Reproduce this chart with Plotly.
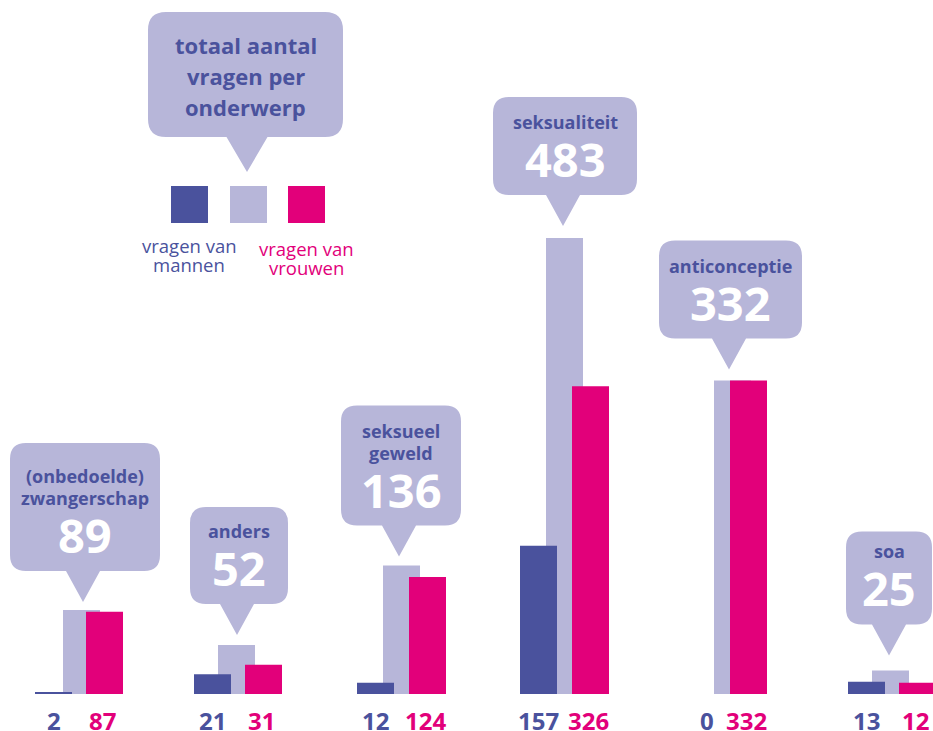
import plotly.graph_objects as go

# ---------------- data ----------------
topics = ["(onbedoelde)\nzwangerschap", "anders", "seksueel\ngeweld",
          "seksualiteit", "anticonceptie", "soa"]
totals = [89, 52, 136, 483, 332, 25]
men = [2, 21, 12, 157, 0, 13]
women = [87, 31, 124, 326, 332, 12]

legend_title = ["totaal aantal", "vragen per", "onderwerp"]
legend_men = ["vragen van", "mannen"]
legend_women = ["vragen van", "vrouwen"]

# ---------------- style ----------------
C_MEN = "#4a529d"
C_TOT = "#b7b6d9"
C_WOM = "#e2007a"
C_TXT = "#4a529d"
FONT = "Open Sans, Lato, DejaVu Sans, sans-serif"

W, H = 933, 731
PX_PER_CAT = 161.8          # pixel distance between groups
FIRST_CENTER = 81.5         # pixel x of first group centre
BASE_PX = 694               # pixel y of baseline
PX_PER_UNIT = 456 / 483     # vertical pixels per question
BAR_W_PX = 37

# small per-group layout nudges (pixels) to follow the hand-made original
group_nudge = [0, -6.8, -3.6, -2.4, 3.8, 0]
men_shift = [-28, -24, -26, -26, -26, -24]
women_shift = [23, 27, 26, 26, 16, 27]
tip_dx = [1.5, 0.5, -2.5, -1.5, -3.5, -1.5]
bubble_style = [
    dict(w=150, h=128, gap=8, dx=2),
    dict(w=98, h=97, gap=10, dx=2),
    dict(w=120, h=120, gap=9, dx=2),
    dict(w=144, h=98, gap=12, dx=2),
    dict(w=143, h=98, gap=11, dx=1.5),
    dict(w=86, h=93, gap=15, dx=0),
]
TRI_H, TRI_W, RAD = 31, 34, 16

x_lo = -FIRST_CENTER / PX_PER_CAT
x_hi = (W - FIRST_CENTER) / PX_PER_CAT
y_lo = -(H - BASE_PX) / PX_PER_UNIT
y_hi = BASE_PX / PX_PER_UNIT

bw = BAR_W_PX / PX_PER_CAT
cats = list(range(len(topics)))


def offs(shifts):
    return [(group_nudge[i] + shifts[i] - BAR_W_PX / 2) / PX_PER_CAT for i in cats]


fig = go.Figure()
fig.add_trace(go.Bar(x=cats, y=totals, width=bw, offset=offs([0] * len(cats)),
                     marker=dict(color=C_TOT, line=dict(width=0)),
                     name="totaal", hoverinfo="skip"))
fig.add_trace(go.Bar(x=cats, y=men, width=bw, offset=offs(men_shift),
                     marker=dict(color=C_MEN, line=dict(width=0)),
                     name="mannen", hoverinfo="skip"))
fig.add_trace(go.Bar(x=cats, y=women, width=bw, offset=offs(women_shift),
                     marker=dict(color=C_WOM, line=dict(width=0)),
                     name="vrouwen", hoverinfo="skip"))


def bubble_path(w, h, tri_h, tri_w, gap, r, dx=0.0):
    yb = gap + tri_h
    yt = yb + h
    xl, xr = dx - w / 2, dx + w / 2
    p = [
        f"M 0,{gap}",
        f"L {tri_w / 2},{yb}",
        f"L {xr - r},{yb}",
        f"Q {xr},{yb} {xr},{yb + r}",
        f"L {xr},{yt - r}",
        f"Q {xr},{yt} {xr - r},{yt}",
        f"L {xl + r},{yt}",
        f"Q {xl},{yt} {xl},{yt - r}",
        f"L {xl},{yb + r}",
        f"Q {xl},{yb} {xl + r},{yb}",
        f"L {-tri_w / 2},{yb}",
        "Z",
    ]
    return " ".join(p)


shapes = []
annotations = []
for i, (lab, tot) in enumerate(zip(topics, totals)):
    st = bubble_style[i]
    tip_x = cats[i] + (group_nudge[i] + tip_dx[i]) / PX_PER_CAT
    shapes.append(dict(
        type="path", xref="x", yref="y",
        xsizemode="pixel", ysizemode="pixel",
        xanchor=tip_x, yanchor=tot,
        path=bubble_path(st["w"], st["h"], TRI_H, TRI_W, st["gap"], RAD, st["dx"]),
        fillcolor=C_TOT, line=dict(width=0), layer="above",
    ))
    B = st["gap"] + TRI_H
    annotations.append(dict(
        x=tip_x, y=tot, xref="x", yref="y", xshift=st["dx"], yshift=B + 36,
        text=f"<b>{tot}</b>", showarrow=False, xanchor="center", yanchor="middle",
        font=dict(family=FONT, size=47, color="white"),
    ))
    lines = lab.split("\n")
    for k, line in enumerate(reversed(lines)):
        annotations.append(dict(
            x=tip_x, y=tot, xref="x", yref="y", xshift=st["dx"],
            yshift=B + 73 + 22 * k,
            text=f"<b>{line}</b>", showarrow=False, xanchor="center", yanchor="middle",
            font=dict(family=FONT, size=18, color=C_TXT),
        ))
    # bottom value labels, under their bars
    annotations.append(dict(
        x=cats[i], y=0, xref="x", yref="y",
        xshift=group_nudge[i] + men_shift[i], yshift=-26,
        text=f"<b>{men[i]}</b>", showarrow=False, xanchor="center", yanchor="middle",
        font=dict(family=FONT, size=24, color=C_MEN),
    ))
    annotations.append(dict(
        x=cats[i], y=0, xref="x", yref="y",
        xshift=group_nudge[i] + women_shift[i] - 2, yshift=-26,
        text=f"<b>{women[i]}</b>", showarrow=False, xanchor="center", yanchor="middle",
        font=dict(family=FONT, size=24, color=C_WOM),
    ))


# ---------------- legend (paper coordinates from pixels) ----------------
def px(x):
    return x / W


def py(y):
    return 1 - y / H


shapes.append(dict(
    type="path", xref="paper", yref="paper",
    xsizemode="pixel", ysizemode="pixel",
    xanchor=px(247), yanchor=py(172),
    path=bubble_path(195, 125, 35, 41, 0, 18, -1.5),
    fillcolor=C_TOT, line=dict(width=0), layer="above",
))
for k, line in enumerate(legend_title):
    annotations.append(dict(
        x=px(246), y=py(45 + 31 * k), xref="paper", yref="paper",
        text=f"<b>{line}</b>", showarrow=False, xanchor="center", yanchor="middle",
        font=dict(family=FONT, size=22, color=C_TXT),
    ))
for x0, col in [(171, C_MEN), (230, C_TOT), (288, C_WOM)]:
    shapes.append(dict(
        type="rect", xref="paper", yref="paper",
        x0=px(x0), x1=px(x0 + 37), y0=py(223), y1=py(186),
        fillcolor=col, line=dict(width=0), layer="above",
    ))
for lines, cx, y0, col in [(legend_men, 189, 245, C_MEN), (legend_women, 306, 248, C_WOM)]:
    for k, line in enumerate(lines):
        annotations.append(dict(
            x=px(cx), y=py(y0 + 19 * k), xref="paper", yref="paper", text=line,
            showarrow=False, xanchor="center", yanchor="middle",
            font=dict(family=FONT, size=18.5, color=col),
        ))

fig.update_layout(
    width=W, height=H,
    margin=dict(l=0, r=0, t=0, b=0),
    paper_bgcolor="white", plot_bgcolor="white",
    barmode="overlay", showlegend=False,
    xaxis=dict(range=[x_lo, x_hi], visible=False, fixedrange=True),
    yaxis=dict(range=[y_lo, y_hi], visible=False, fixedrange=True),
    shapes=shapes, annotations=annotations,
    hovermode=False,
)

fig.write_html("out.html", config={"displayModeBar": False})
